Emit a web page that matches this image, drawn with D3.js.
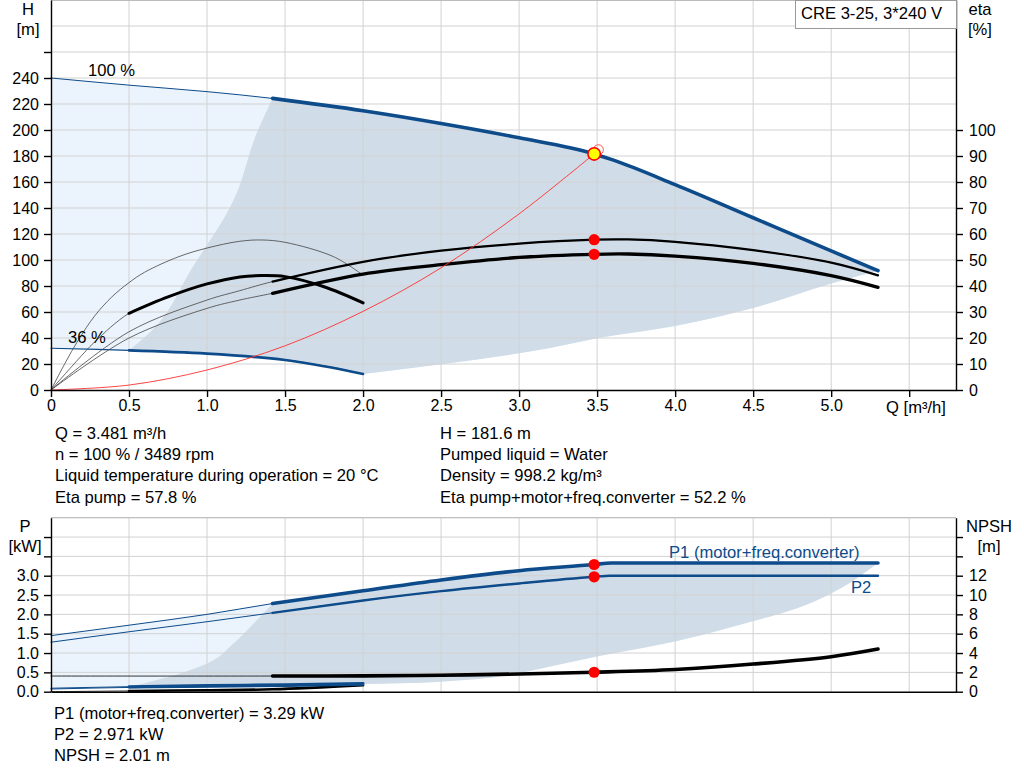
<!DOCTYPE html>
<html>
<head>
<meta charset="utf-8">
<script src="https://cdn.jsdelivr.net/npm/d3@7"></script>
<style>
  body { margin: 0; background: #fff; }
  svg { display: block; font-family: "Liberation Sans", Arial, sans-serif; }
  text { font-size: 16.6px; fill: #000; }
  .axis path, .axis line { stroke: #000; stroke-width: 1.4; }
  .axis text { font-size: 16px; font-family: "Liberation Sans", Arial, sans-serif; }
</style>
</head>
<body>
<svg id="chart" width="1024" height="781"></svg>
<script>
// ---- ticks
const qTicks = [0, 0.5, 1.0, 1.5, 2.0, 2.5, 3.0, 3.5, 4.0, 4.5, 5.0, 5.5];
const hTicks = [0, 20, 40, 60, 80, 100, 120, 140, 160, 180, 200, 220, 240, 260];
const etaTicks = [0, 10, 20, 30, 40, 50, 60, 70, 80, 90, 100];
const pTicks = [0, 0.5, 1.0, 1.5, 2.0, 2.5, 3.0, 3.5, 4.0];
const npshTicks = [0, 2, 4, 6, 8, 10, 12, 14, 16];

// ---- top chart: [Q m3/h, H m]
const qh100 = [[0,240],[0.5,234.5],[1.0,229.5],[1.42,224.3],[2.0,214.8],[2.5,205],[3.0,194],[3.481,181.6],[3.6,177],[4.0,158],[4.5,132.5],[5.0,107],[5.3,91.8]];
const qh36 = [[0,32.1],[0.5,30.5],[1.0,28.0],[1.5,23.1],[1.75,18.3],[2.0,12.3]];
const systemCurve = [[0,0],[0.5,3.8],[1.0,15.4],[1.5,34],[2.0,60.5],[2.5,94],[3.0,135.5],[3.481,181.6]];
const leftBoundH = [[0.5,30.5],[0.63,43.9],[0.91,95],[1.17,146],[1.32,198],[1.42,224.3]];
const bottomBoundH = [[2.0,12.3],[2.5,19.8],[3.19,32.1],[3.5,39.8],[4.0,49.3],[4.5,63],[5.0,82],[5.3,91.8]];

// [Q, eta %]
const etaPump100 = [[0,0],[0.5,22.4],[1.0,34.6],[1.21,38.2],[1.42,41.7],[2.0,49.3],[2.5,53.6],[3.0,56.3],[3.481,57.8],[3.7,57.9],[4.0,57.0],[4.5,53.8],[5.0,49.0],[5.3,44.1]];
const etaTotal100 = [[0,0],[0.5,20],[1.0,31.4],[1.21,34.6],[1.42,37.2],[2.0,44.6],[2.5,48.2],[3.0,51.0],[3.481,52.2],[3.7,52.3],[4.0,51.5],[4.5,48.7],[5.0,44.0],[5.3,39.5]];
const etaPump36 = [[0,0],[0.09,10.3],[0.175,19.2],[0.28,28.5],[0.39,35.8],[0.5,41.3],[0.6,45.3],[0.82,51.3],[1.0,54.6],[1.21,57.2],[1.35,57.7],[1.5,56.8],[1.81,51.3],[1.99,44.6]];
const etaTotal36 = [[0,0],[0.17,11.5],[0.28,18.5],[0.5,29.5],[0.75,35.8],[1.0,40.8],[1.21,43.5],[1.35,44],[1.5,43.6],[1.75,39.7],[2.0,33.5]];

// ---- bottom chart: [Q, P kW] and [Q, NPSH m]
const p1_100 = [[0,1.45],[0.5,1.72],[1.0,2.0],[1.42,2.28],[2.0,2.61],[2.5,2.89],[3.0,3.13],[3.481,3.29],[3.59,3.33],[4.5,3.33],[5.3,3.33]];
const p2_100 = [[0,1.28],[0.5,1.55],[1.0,1.81],[1.42,2.04],[2.0,2.36],[2.5,2.6],[3.0,2.8],[3.481,2.971],[3.58,3.0],[4.5,3.0],[5.3,3.0]];
const npsh100 = [[0,1.62],[1.42,1.62],[2.0,1.64],[2.5,1.7],[3.0,1.83],[3.481,2.01],[4.0,2.3],[4.5,2.86],[5.0,3.62],[5.3,4.41]];
const p1_36 = [[0,0.09],[0.5,0.13],[1.0,0.16],[1.5,0.18],[2.0,0.21]];
const p2_36 = [[0,0.07],[0.5,0.11],[1.0,0.13],[1.5,0.15],[2.0,0.18]];
const npsh36 = [[0,0],[0.5,0.08],[1.0,0.15],[1.42,0.25],[2.0,0.68]];
const leftBoundP = [[0.5,0.13],[0.83,0.48],[1.0,0.73],[1.17,1.25],[1.3,1.77],[1.42,2.28]];
const bottomBoundP = [[2.0,0.2],[2.5,0.26],[3.0,0.47],[3.2,0.65],[3.5,0.91],[4.0,1.3],[4.37,1.68],[5.0,2.54],[5.13,2.84],[5.3,3.33]];

// ---- duty point
const opQ = 3.481, opH = 181.6, opEtaPump = 57.8, opEtaTotal = 52.2;
const opP1 = 3.29, opP2 = 2.971, opNpsh = 2.01;
const ghostQ = 3.508, ghostH = 184.8;

const infoLeft = ["Q = 3.481 m³/h", "n = 100 % / 3489 rpm", "Liquid temperature during operation = 20 °C", "Eta pump = 57.8 %"];
const infoRight = ["H = 181.6 m", "Pumped liquid = Water", "Density = 998.2 kg/m³", "Eta pump+motor+freq.converter = 52.2 %"];
const infoBottom = ["P1 (motor+freq.converter) = 3.29 kW", "P2 = 2.971 kW", "NPSH = 2.01 m"];

const BLUE = "#0d4b8a", LIGHT = "#ebf4fc", DARK = "#d0dce7", GRID = "#d2d2d2";
const SMOOTH = d3.curveCatmullRom.alpha(0.5);

const svg = d3.select("#chart");

const x = d3.scaleLinear().domain([0, 5.8]).range([51, 956]);
const yH = d3.scaleLinear().domain([0, 300]).range([390, 0]);
const yEta = d3.scaleLinear().domain([0, 150]).range([390, 0]);
const yP = d3.scaleLinear().domain([0, 4.5]).range([691.7, 517.7]);
const yN = d3.scaleLinear().domain([0, 18]).range([691.7, 517.7]);

const lineFor = (ys, curve) => d3.line().x(d => x(d[0])).y(d => ys(d[1])).curve(curve || d3.curveMonotoneX);

// stitch several curve pieces into one closed region
function region(parts) {
  return parts.map((p, i) => {
    const s = lineFor(p.ys, p.curve)(p.pts);
    return i ? s.replace(/^M/, "L") : s;
  }).join("") + "Z";
}
const rev = a => a.slice().reverse();

// ===== shaded regions
const topArea = svg.append("g");
topArea.append("path").attr("fill", LIGHT).attr("d", region([
  {pts: qh100, ys: yH}, {pts: rev(bottomBoundH), ys: yH}, {pts: rev(qh36), ys: yH, curve: SMOOTH}
]));
topArea.append("path").attr("fill", DARK).attr("d", region([
  {pts: leftBoundH, ys: yH, curve: d3.curveMonotoneY},
  {pts: qh100.filter(d => d[0] >= 1.42), ys: yH},
  {pts: rev(bottomBoundH), ys: yH},
  {pts: rev(qh36.filter(d => d[0] >= 0.5)), ys: yH, curve: SMOOTH}
]));

const botArea = svg.append("g");
botArea.append("path").attr("fill", LIGHT).attr("d", region([
  {pts: p1_100.filter(d => d[0] <= 1.42), ys: yP},
  {pts: rev(leftBoundP), ys: yP, curve: d3.curveMonotoneY},
  {pts: rev(p1_36.filter(d => d[0] <= 0.5)), ys: yP}
]));
botArea.append("path").attr("fill", DARK).attr("d", region([
  {pts: leftBoundP, ys: yP, curve: d3.curveMonotoneY},
  {pts: p1_100.filter(d => d[0] >= 1.42), ys: yP},
  {pts: rev(bottomBoundP), ys: yP},
  {pts: rev(p1_36.filter(d => d[0] >= 0.5)), ys: yP}
]));

// ===== grid
function grid(g, ys, values, y0, y1) {
  g.selectAll(null).data(qTicks.filter(d => d > 0)).join("line")
    .attr("x1", d => x(d)).attr("x2", d => x(d)).attr("y1", y0).attr("y2", y1)
    .attr("stroke", GRID).attr("stroke-width", 1);
  g.selectAll(null).data(values).join("line")
    .attr("x1", x(0)).attr("x2", x(5.8)).attr("y1", d => ys(d)).attr("y2", d => ys(d))
    .attr("stroke", GRID).attr("stroke-width", 1);
}
grid(svg.append("g"), yH, [20,40,60,80,100,120,140,160,180,200,220,240,260,280,300], yH(300), yH(0));
grid(svg.append("g"), yP, [0.5,1.0,1.5,2.0,2.5,3.0,3.5,4.0,4.5], yP(4.5), yP(0));

// ===== curves
function curve(g, data, ys, color, width, from, kind) {
  const pts = data.filter(d => d[0] >= (from ?? -1));
  g.append("path").attr("d", lineFor(ys, kind)(pts)).attr("fill", "none")
    .attr("stroke", color).attr("stroke-width", width)
    .attr("stroke-linecap", "round").attr("stroke-linejoin", "round");
}
const c = svg.append("g");
// QH
curve(c, qh100, yH, BLUE, 1);
curve(c, qh100, yH, BLUE, 3.6, 1.42);
curve(c, qh36, yH, BLUE, 1.2, 0, SMOOTH);
curve(c, qh36, yH, BLUE, 2.6, 0.5, SMOOTH);
// efficiencies
curve(c, etaPump36, yEta, "#444", 0.8, 0, SMOOTH);
curve(c, etaTotal36, yEta, "#444", 0.8, 0, SMOOTH);
curve(c, etaTotal36, yEta, "#000", 3, 0.5, SMOOTH);
curve(c, etaPump100, yEta, "#444", 0.8, 0, SMOOTH);
curve(c, etaPump100, yEta, "#000", 2.2, 1.42, SMOOTH);
curve(c, etaTotal100, yEta, "#444", 0.8, 0, SMOOTH);
curve(c, etaTotal100, yEta, "#000", 3.3, 1.42, SMOOTH);
// system curve
curve(c, systemCurve, yH, "#ff3030", 0.9, 0, SMOOTH);

// power / NPSH
curve(c, p1_100, yP, BLUE, 1);
curve(c, p1_100, yP, BLUE, 3.6, 1.42);
curve(c, p2_100, yP, BLUE, 1);
curve(c, p2_100, yP, BLUE, 2.4, 1.42);
curve(c, npsh100, yN, "#333", 1, 0, SMOOTH);
curve(c, npsh100, yN, "#000", 3.6, 1.42, SMOOTH);
curve(c, npsh36, yN, "#333", 1, 0, SMOOTH);
curve(c, npsh36, yN, "#000", 2.6, 0.5, SMOOTH);
curve(c, p2_36, yP, BLUE, 1);
curve(c, p2_36, yP, BLUE, 2.2, 0.5);
curve(c, p1_36, yP, BLUE, 1);
curve(c, p1_36, yP, BLUE, 3, 0.5);

// ===== duty point markers
const dots = [[opQ, yEta(opEtaPump)], [opQ, yEta(opEtaTotal)], [opQ, yP(opP1)], [opQ, yP(opP2)], [opQ, yN(opNpsh)]];
svg.append("g").selectAll("circle").data(dots).join("circle")
  .attr("cx", d => x(d[0])).attr("cy", d => d[1]).attr("r", 5.6).attr("fill", "#ff0000");
svg.append("circle").attr("cx", x(ghostQ)).attr("cy", yH(ghostH)).attr("r", 5)
  .attr("fill", "none").attr("stroke", "#ff5050").attr("stroke-width", 1);
svg.append("circle").attr("cx", x(opQ)).attr("cy", yH(opH)).attr("r", 6.2)
  .attr("fill", "#ffff00").attr("stroke", "#ff0000").attr("stroke-width", 1.6);

// ===== frames and axes
svg.append("line").attr("x1", x(0)).attr("x2", x(5.8)).attr("y1", 0.5).attr("y2", 0.5).attr("stroke", "#bbb");
svg.append("line").attr("x1", x(0)).attr("x2", x(5.8)).attr("y1", yP(4.5)).attr("y2", yP(4.5)).attr("stroke", "#bbb");

const fmt1 = d => d === 0 ? "0" : d.toFixed(1);
svg.append("g").attr("class", "axis").attr("transform", `translate(${x(0)},0)`)
  .call(d3.axisLeft(yH).tickValues(hTicks).tickSize(7).tickSizeOuter(0).tickPadding(5)
    .tickFormat(d => d <= 240 ? d : ""));
svg.append("g").attr("class", "axis").attr("transform", `translate(${x(5.8)},0)`)
  .call(d3.axisRight(yEta).tickValues(etaTicks).tickSize(7).tickSizeOuter(0).tickPadding(6));
svg.append("g").attr("class", "axis").attr("transform", `translate(0,${yH(0)})`)
  .call(d3.axisBottom(x).tickValues(qTicks).tickSize(7).tickSizeOuter(0).tickPadding(3)
    .tickFormat(d => d === 5.5 ? "" : fmt1(d)));

svg.append("g").attr("class", "axis").attr("transform", `translate(${x(0)},0)`)
  .call(d3.axisLeft(yP).tickValues(pTicks).tickSize(7).tickSizeOuter(0).tickPadding(5)
    .tickFormat(d => d <= 3 ? d.toFixed(1) : ""));
svg.append("g").attr("class", "axis").attr("transform", `translate(${x(5.8)},0)`)
  .call(d3.axisRight(yN).tickValues(npshTicks).tickSize(7).tickSizeOuter(0).tickPadding(6)
    .tickFormat(d => d <= 12 ? d : ""));
svg.append("g").attr("class", "axis").attr("transform", `translate(0,${yP(0)})`)
  .call(d3.axisBottom(x).tickValues([]).tickSizeOuter(0));
svg.selectAll(".axis .domain").attr("stroke-width", 1.6);

// ===== titles
const label = (t, px, py, anchor, color) => svg.append("text").attr("x", px).attr("y", py)
  .attr("text-anchor", anchor || "start").style("fill", color || "#000").text(t);
label("H", 28, 15, "middle");
label("[m]", 28, 35, "middle");
label("eta", 980, 15, "middle");
label("[%]", 980, 35, "middle");
label("Q [m³/h]", 886, 413);
label("100 %", 88, 76);
label("36 %", 68, 343);
label("P", 25, 532, "middle");
label("[kW]", 25, 552, "middle");
label("NPSH", 989, 532, "middle");
label("[m]", 989, 552, "middle");
label("P1 (motor+freq.converter)", 669, 558, "start", BLUE);
label("P2", 851, 593, "start", BLUE);

svg.append("rect").attr("x", 795.5).attr("y", 0.5).attr("width", 161).attr("height", 28)
  .attr("fill", "#fff").attr("stroke", "#999");
label("CRE 3-25, 3*240 V", 801, 19);

infoLeft.forEach((t, i) => label(t, 55, 439 + i * 21.2));
infoRight.forEach((t, i) => label(t, 440, 439 + i * 21.2));
infoBottom.forEach((t, i) => label(t, 54, 719 + i * 21.2));
</script>
</body>
</html>
